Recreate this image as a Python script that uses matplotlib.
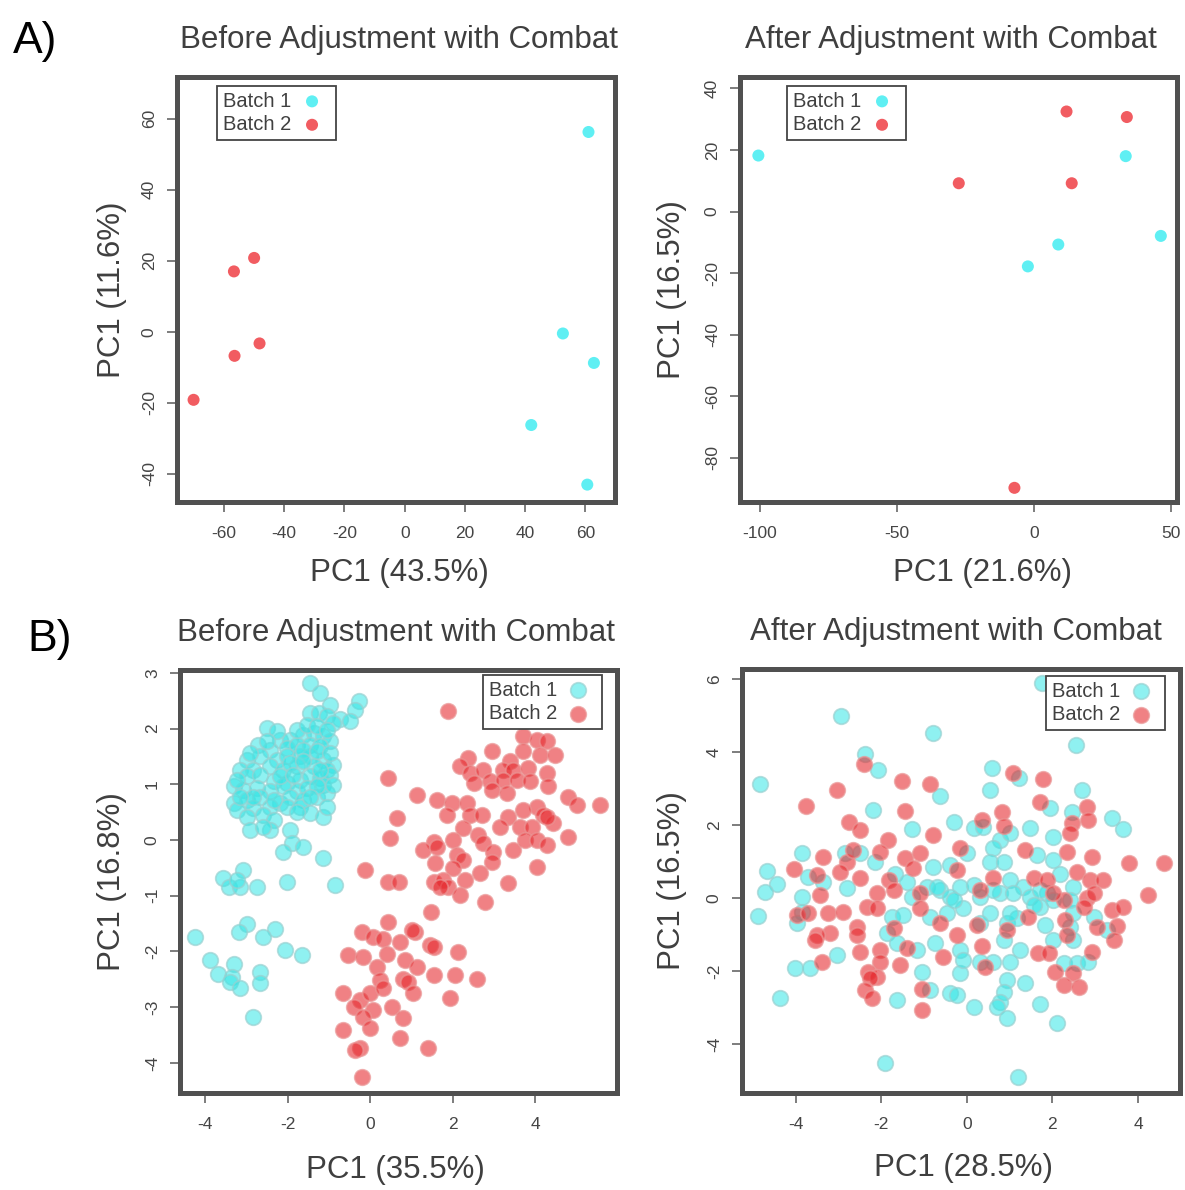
import matplotlib
matplotlib.use("Agg")
import matplotlib.pyplot as plt

plt.rcParams['font.family'] = ['Liberation Sans', 'DejaVu Sans']
plt.rcParams['axes.unicode_minus'] = False

# ---- A) small data set, before / after combat ----
a_before_b1_x = [61.0, 52.5, 62.8, 42.0, 60.6]
a_before_b1_y = [56.3, -0.5, -8.8, -26.3, -43.1]
a_before_b2_x = [-50.0, -56.7, -56.5, -48.2, -70.1]
a_before_b2_y = [20.8, 17.0, -6.8, -3.3, -19.2]

a_after_b1_x = [-100.5, 33.5, 8.9, -2.2, 46.3]
a_after_b1_y = [18.2, 18.0, -10.7, -17.8, -7.9]
a_after_b2_x = [11.9, 33.9, -27.4, 13.8, -7.1]
a_after_b2_y = [32.5, 30.7, 9.2, 9.2, -89.7]

# ---- B) large data set, before combat ----
b_before_b1_x = [-1.45, -1.21, -0.97, -0.28, -0.36, -1.45, -1.25, -1.05, -0.73, -0.48,
                 -0.89, -2.51, -2.18, -1.94, -1.62, -1.37, -1.13, -0.97, -2.71, -2.42,
                 -2.02, -1.78, -1.45, -1.21, -2.99, -2.67, -2.26, -2.02, -1.70, -1.45,
                 -1.13, -0.89, -3.15, -2.83, -2.42, -2.10, -1.78, -1.37, -1.05, -3.31,
                 -2.99, -2.67, -2.34, -2.02, -1.70, -1.45, -1.21, -0.97, -3.07, -2.75,
                 -2.42, -2.10, -1.78, -1.54, -1.13, -3.31, -2.99, -2.67, -2.18, -1.94,
                 -1.62, -1.29, -1.05, -3.23, -2.83, -2.42, -2.02, -1.70, -1.45, -1.13,
                 -2.99, -2.59, -2.34, -2.91, -2.42, -1.94, -1.90, -1.62, -2.10, -1.13,
                 -3.07, -3.56, -3.43, -3.15, -2.75, -2.02, -0.85, -3.23, -2.99, -3.19,
                 -2.30, -2.59, -4.24, -2.06, -1.66, -3.88, -3.31, -3.68, -3.35, -2.67,
                 -3.39, -2.67, -3.15, -2.83,
                 -2.26, -1.78, -1.54, -1.29, -1.05, -2.91, -2.51, -1.62, -1.29, -0.97,
                 -1.94, -1.62, -1.21, -3.23, -2.18, -1.86, -1.29, -0.89, -2.83, -2.34,
                 -1.45, -1.78, -1.05, -2.59, -3.15]
b_before_b1_y = [2.81, 2.63, 2.43, 2.49, 2.34, 2.28, 2.28, 2.22, 2.17, 2.14,
                 2.10, 2.01, 1.80, 1.80, 1.89, 1.92, 1.86, 1.77, 1.71, 1.62,
                 1.65, 1.71, 1.71, 1.68, 1.44, 1.50, 1.44, 1.50, 1.50, 1.50,
                 1.44, 1.35, 1.26, 1.26, 1.32, 1.26, 1.32, 1.32, 1.26, 0.96,
                 1.14, 1.17, 1.05, 1.02, 1.08, 1.14, 1.11, 1.17, 0.90, 0.93,
                 0.87, 0.96, 0.87, 0.93, 0.99, 0.66, 0.72, 0.78, 0.66, 0.78,
                 0.72, 0.78, 0.84, 0.54, 0.57, 0.60, 0.60, 0.60, 0.48, 0.42,
                 0.42, 0.45, 0.36, 0.18, 0.18, 0.18, -0.06, -0.12, -0.21, -0.33,
                 -0.54, -0.69, -0.84, -0.84, -0.84, -0.75, -0.81, -0.72, -1.50, -1.65,
                 -1.59, -1.74, -1.74, -1.98, -2.07, -2.16, -2.22, -2.40, -2.46, -2.37,
                 -2.54, -2.57, -2.66, -3.17,
                 1.95, 1.98, 2.07, 2.04, 1.98, 1.56, 1.77, 1.62, 1.59, 1.56,
                 1.38, 1.41, 1.26, 1.08, 1.14, 1.17, 0.96, 0.99, 0.78, 0.72,
                 0.78, 0.51, 0.60, 0.24, 0.78]
b_before_b2_x = [1.90, 3.72, 4.04, 4.28, 2.95, 3.72, 4.12, 4.48, 2.38, 3.39,
                 2.18, 2.42, 2.75, 3.23, 3.47, 3.84, 4.28, 0.44, 2.91, 3.23,
                 3.56, 3.88, 2.51, 2.95, 4.32, 1.13, 1.62, 1.98, 2.34, 3.31,
                 4.04, 4.81, 5.01, 5.58, 2.42, 2.71, 3.72, 0.65, 1.86, 3.35,
                 4.20, 4.44, 2.26, 3.15, 3.64, 3.92, 4.81, 4.28, 0.48, 1.54,
                 2.02, 1.29, 2.63, 2.75, 2.99, 3.47, 3.76, 4.04, 4.28, 1.62,
                 1.58, 2.10, 2.26, 2.95, -0.12, 4.04, 2.02, 2.67, 0.44, 0.69,
                 1.54, 1.78, 1.90, 2.30, 3.35, 2.18, 2.79, 1.70, 1.49, 0.44,
                 -0.20, 0.08, 0.32, 1.09, 0.73, 1.45, 2.14, 1.01, 1.54, -0.53,
                 -0.16, 0.16, 0.40, 0.85, 1.13, 0.24, 0.81, 1.54, 2.06, 2.59,
                 -0.65, -0.24, 0.00, 0.32, 0.93, 1.05, 1.94, -0.40, 0.08, 0.53,
                 -0.16, 0.81, -0.65, 0.00, 0.73, -0.24, 1.41, -0.36, -0.20]
b_before_b2_y = [2.31, 1.86, 1.80, 1.77, 1.59, 1.59, 1.53, 1.53, 1.47, 1.41,
                 1.32, 1.20, 1.26, 1.26, 1.26, 1.29, 1.20, 1.11, 1.05, 1.08,
                 1.08, 1.05, 1.02, 0.90, 0.96, 0.81, 0.72, 0.66, 0.66, 0.84,
                 0.60, 0.78, 0.63, 0.63, 0.45, 0.45, 0.54, 0.39, 0.45, 0.42,
                 0.45, 0.30, 0.21, 0.24, 0.24, 0.24, 0.06, 0.42, 0.03, -0.03,
                 0.00, -0.18, 0.09, -0.06, -0.21, -0.18, 0.00, 0.00, -0.09, -0.12,
                 -0.42, -0.27, -0.36, -0.39, -0.54, -0.48, -0.51, -0.60, -0.75, -0.75,
                 -0.75, -0.72, -0.84, -0.72, -0.77, -0.99, -1.12, -0.84, -1.29, -1.47,
                 -1.65, -1.74, -1.77, -1.65, -1.83, -1.89, -2.01, -1.62, -1.92, -2.07,
                 -2.10, -2.28, -2.04, -2.16, -2.28, -2.51, -2.49, -2.43, -2.43, -2.49,
                 -2.75, -2.87, -2.75, -2.66, -2.54, -2.74, -2.83, -2.99, -3.05, -2.99,
                 -3.17, -3.20, -3.41, -3.38, -3.56, -3.74, -3.74, -3.77, -4.25]

# ---- B) large data set, after combat ----
b_after_b1_x = [1.75, -2.94, -0.78, 2.55, -2.38, -2.08, 0.58, 1.21, -4.83, 0.55,
                2.69, -0.62, -2.18, 1.95, 2.45, 3.39, 3.66, -0.31, -1.29, 0.16,
                0.39, 1.48, 0.78, 1.01, 2.02, -3.86, -2.84, -2.49, 0.00, 0.62,
                1.64, -4.67, -3.70, -2.14, -0.78, -0.39, 0.55, 0.86, 2.02, -4.44,
                -4.71, -3.35, -2.80, -1.67, -1.40, -0.93, -0.62, -0.16, 0.16, 1.01,
                1.32, 2.18, 2.49, -3.86, -1.29, -0.39, 0.31, 0.78, 1.09, 1.48,
                1.87, -4.87, -3.86, -1.75, -1.48, -0.86, -0.47, -0.08, 0.55, 0.93,
                1.17, 1.71, 1.83, 2.49, 2.96, -3.97, -1.87, 2.41, 3.27, -1.64,
                -1.17, -0.74, -0.16, 0.86, 1.25, 2.02, 2.49, -3.04, -4.01, -3.66,
                -1.05, -0.16, -0.08, 0.31, 0.62, 1.01, 2.26, 2.57, 2.84, 0.93,
                1.36, 0.86, -0.39, -0.23, -0.86, 0.78, -1.64, 0.16, 0.70, 1.71,
                -4.36, 0.93, 2.10, -1.91, 1.19,
                -0.70, -0.31, 0.62, 1.71, 2.02, 1.01, 0.31, 1.56, 2.41]
b_after_b1_y = [5.89, 4.98, 4.54, 4.20, 3.95, 3.52, 3.56, 3.29, 3.13, 2.97,
                2.97, 2.80, 2.42, 2.47, 2.37, 2.19, 1.89, 2.10, 1.89, 1.92,
                1.96, 1.92, 1.60, 1.78, 1.69, 1.25, 1.23, 1.23, 1.23, 1.37,
                1.19, 0.76, 0.59, 1.00, 0.87, 0.91, 1.00, 1.00, 1.05, 0.39,
                0.18, 0.46, 0.27, 0.68, 0.46, 0.32, 0.23, 0.32, 0.37, 0.50,
                0.32, 0.68, 0.32, 0.05, 0.05, 0.05, 0.05, 0.14, 0.14, 0.05,
                0.14, -0.48, -0.37, -0.50, -0.46, -0.50, -0.41, -0.27, -0.41, -0.68,
                -0.55, -0.23, -0.73, -0.41, -0.50, -0.68, -0.96, -0.78, -0.87, -1.23,
                -1.42, -1.23, -1.42, -1.14, -1.42, -1.14, -1.14, -1.55, -1.92, -1.92,
                -2.01, -2.05, -1.69, -1.74, -1.74, -1.74, -1.78, -1.78, -1.74, -2.24,
                -2.33, -2.56, -2.60, -2.65, -2.51, -2.83, -2.79, -2.97, -2.97, -2.88,
                -2.74, -3.29, -3.42, -4.52, -4.89,
                0.32, -0.05, 0.23, 0.23, -0.05, -0.41, -0.68, -0.18, -0.05]
b_after_b2_x = [-2.40, -3.02, -1.52, -0.86, 1.09, 1.78, -3.75, -1.44, 0.82, 1.70,
                2.80, 2.84, -2.74, -2.49, -1.83, -0.78, 0.35, 0.86, 2.45, 2.41,
                -3.35, -2.80, -2.65, -2.02, -1.44, -1.09, -0.16, 1.36, 2.34, 2.92,
                3.80, 4.60, -4.03, -3.50, -2.96, -2.49, -1.81, -1.25, -0.23, 0.62,
                1.56, 2.57, 2.88, 3.19, -3.43, -2.10, -1.71, -1.09, 0.31, 2.26,
                2.80, 4.24, -3.97, -3.70, -3.23, -2.88, -2.34, -2.10, -1.09, 0.23,
                1.44, 2.30, 2.73, 3.39, 3.66, -2.57, -1.71, -0.62, -0.23, 3.04,
                3.50, -3.19, -3.50, -3.54, -2.57, 0.93, 2.34, 3.43, -3.39, -2.49,
                -2.02, -1.40, -0.55, 0.35, 1.67, 1.91, 2.92, -2.02, -2.30, -2.10,
                -1.56, 0.43, 2.06, 2.49, -2.26, -2.38, -1.05, 2.26, 2.61, -2.22,
                -1.05, 1.87, 2.02, 2.96]
b_after_b2_y = [3.68, 2.97, 3.20, 3.13, 3.42, 3.27, 2.53, 2.40, 2.37, 2.65,
                2.51, 2.15, 2.10, 1.87, 1.60, 1.74, 2.15, 1.98, 2.05, 1.78,
                1.12, 1.00, 1.32, 1.28, 1.10, 1.23, 1.37, 1.32, 1.28, 1.14,
                0.96, 0.98, 0.79, 0.64, 0.73, 0.55, 0.50, 0.82, 0.78, 0.55,
                0.55, 0.73, 0.50, 0.50, 0.09, 0.14, 0.23, 0.14, 0.23, -0.05,
                0.00, 0.09, -0.46, -0.41, -0.41, -0.37, -0.23, -0.27, -0.27, -0.73,
                -0.50, -0.59, -0.23, -0.32, -0.23, -0.78, -0.82, -0.68, -1.00, -0.78,
                -0.76, -0.96, -1.00, -1.14, -1.00, -0.87, -1.00, -1.14, -1.74, -1.46,
                -1.42, -1.37, -1.60, -1.31, -1.51, -1.51, -1.46, -1.74, -2.01, -2.15,
                -1.83, -1.87, -2.01, -2.05, -2.19, -2.51, -2.47, -2.37, -2.42, -2.74,
                -3.06, 0.50, 0.14, 0.14]

titles = ["Before Adjustment with Combat", "After Adjustment with Combat"]
legend_labels = ["Batch 1", "Batch 2"]

W, H = 1185, 1190
fig = plt.figure(figsize=(W / 100, H / 100), dpi=100)

frame_col = '#505050'
text_col = '#3f3f3f'


def px_axes(l, t, r, b):
    return fig.add_axes([l / W, 1 - b / H, (r - l) / W, (b - t) / H])


def style(ax, xlim, ylim, xticks, yticks, title, xlab, ylab, tx, xlx, ylx, xly, leg_xy):
    ax.set_xlim(*xlim)
    ax.set_ylim(*ylim)
    ax.set_xticks(xticks)
    ax.set_yticks(yticks)
    for s in ax.spines.values():
        s.set_linewidth(3.6)
        s.set_color(frame_col)
    ax.tick_params(direction='out', length=7, width=1.1, color='#5a5a5a',
                   labelsize=12.5, labelcolor='#454545')
    ax.tick_params(axis='x', pad=10.5)
    ax.tick_params(axis='y', pad=7.5, labelrotation=90)
    plt.setp(ax.get_yticklabels(), va='center')
    h = ax.get_window_extent().height
    ax.set_title(title, x=tx, y=1 + 37 / h, va='center', pad=0,
                 fontsize=22.5, color=text_col)
    ax.set_xlabel(xlab, fontsize=22.5, color=text_col)
    ax.xaxis.set_label_coords(xlx, xly)
    ax.xaxis.label.set_va('center')
    ax.set_ylabel(ylab, fontsize=22.5, color=text_col)
    ax.yaxis.set_label_coords(ylx, 0.5)
    ax.yaxis.label.set_va('center')
    leg = ax.legend(loc='upper left', bbox_to_anchor=(leg_xy[0] / W, 1 - leg_xy[1] / H),
                    bbox_transform=fig.transFigure, borderaxespad=0, markerfirst=False,
                    fancybox=False, framealpha=1, edgecolor='#444444', fontsize=14.5,
                    borderpad=0.28, labelspacing=0.22, handlelength=1.8,
                    handletextpad=0.15, labelcolor='#404040', scatterpoints=1)
    leg.get_frame().set_linewidth(1.3)


cyan_a = '#4DEEF2'
red_a = '#F04A50'

# A) before
ax1 = px_axes(177, 77, 615, 502)
ax1.scatter(a_before_b1_x, a_before_b1_y, s=75, c=cyan_a, edgecolors='none', alpha=0.9, label=legend_labels[0])
ax1.scatter(a_before_b2_x, a_before_b2_y, s=75, c=red_a, edgecolors='none', alpha=0.9, label=legend_labels[1])
style(ax1, (-75.6, 69.8), (-48.0, 71.8), range(-60, 61, 20), range(-40, 61, 20),
      titles[0], "PC1 (43.5%)", "PC1 (11.6%)", 0.507, 0.507, -0.148, -0.167, (217, 86))

# A) after
ax2 = px_axes(740, 77, 1177, 502)
ax2.scatter(a_after_b1_x, a_after_b1_y, s=75, c=cyan_a, edgecolors='none', alpha=0.9, label=legend_labels[0])
ax2.scatter(a_after_b2_x, a_after_b2_y, s=75, c=red_a, edgecolors='none', alpha=0.9, label=legend_labels[1])
style(ax2, (-107.2, 52.2), (-94.3, 43.7), [-100, -50, 0, 50], range(-80, 41, 20),
      titles[1], "PC1 (21.6%)", "PC1 (16.5%)", 0.483, 0.556, -0.156, -0.167, (787, 86))

cyan_face = (0.2, 0.9, 0.9, 0.55)
cyan_edge = (0.6, 0.82, 0.82, 0.7)
red_face = (0.9, 0.15, 0.17, 0.58)
red_edge = (0.92, 0.58, 0.58, 0.7)

# B) before
ax3 = px_axes(180, 670, 617, 1093)
ax3.scatter(b_before_b1_x, b_before_b1_y, s=125, facecolors=[cyan_face], edgecolors=[cyan_edge], linewidths=1.3, label=legend_labels[0])
ax3.scatter(b_before_b2_x, b_before_b2_y, s=125, facecolors=[red_face], edgecolors=[red_edge], linewidths=1.3, label=legend_labels[1])
style(ax3, (-4.61, 5.99), (-4.54, 3.05), range(-4, 5, 2), range(-4, 4),
      titles[0], "PC1 (35.5%)", "PC1 (16.8%)", 0.494, 0.494, -0.156, -0.182, (483, 675))

# B) after
ax4 = px_axes(742, 669, 1180, 1093)
ax4.scatter(b_after_b1_x, b_after_b1_y, s=125, facecolors=[cyan_face], edgecolors=[cyan_edge], linewidths=1.3, label=legend_labels[0])
ax4.scatter(b_after_b2_x, b_after_b2_y, s=125, facecolors=[red_face], edgecolors=[red_edge], linewidths=1.3, label=legend_labels[1])
style(ax4, (-5.25, 4.98), (-5.33, 6.28), range(-4, 5, 2), range(-4, 7, 2),
      titles[1], "PC1 (28.5%)", "PC1 (16.5%)", 0.489, 0.505, -0.160, -0.177, (1046, 676))

fig.text(35 / W, 1 - 41 / H, "A)", fontsize=32, ha='center', va='center', color='black')
fig.text(50 / W, 1 - 640 / H, "B)", fontsize=32, ha='center', va='center', color='black')

fig.savefig("out.png", dpi=100)
